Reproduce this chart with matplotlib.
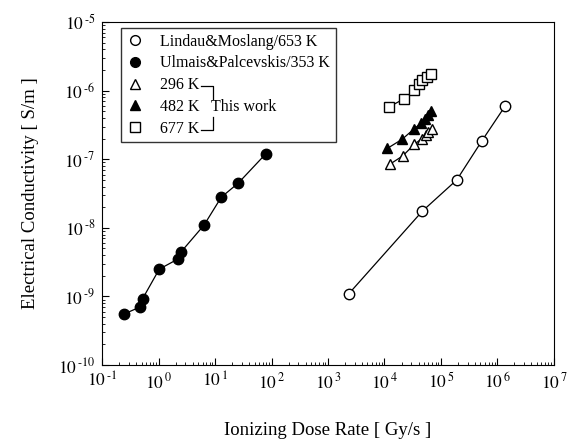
import math
import matplotlib
matplotlib.use("Agg")
import matplotlib.pyplot as plt
from matplotlib.lines import Line2D
from matplotlib.ticker import FuncFormatter

plt.rcParams['font.family'] = 'Liberation Serif'
plt.rcParams['mathtext.fontset'] = 'stix'

# Lindau & Moslang, 653 K
lm_rate = [2.35e3, 4.7e4, 1.9e5, 5.3e5, 1.37e6]
lm_cond = [1.1e-9, 1.76e-8, 5.0e-8, 1.86e-7, 6.0e-7]

# Ulmais & Palcevskis, 353 K
up_rate = [0.24, 0.47, 0.52, 1.03, 2.19, 2.53, 6.4, 12.9, 25.8, 79]
up_cond = [5.5e-10, 7.0e-10, 9.2e-10, 2.5e-9, 3.5e-9, 4.5e-9, 1.1e-8, 2.8e-8, 4.5e-8, 1.2e-7]

# This work
t296_rate = [1.25e4, 2.1e4, 3.37e4, 4.55e4, 5.36e4, 5.96e4, 6.84e4]
t296_cond = [8.5e-8, 1.12e-7, 1.65e-7, 2.0e-7, 2.25e-7, 2.47e-7, 2.8e-7]

t482_rate = [1.12e4, 2.07e4, 3.29e4, 4.48e4, 5.2e4, 5.96e4, 6.65e4]
t482_cond = [1.44e-7, 1.97e-7, 2.75e-7, 3.4e-7, 3.85e-7, 4.45e-7, 5.0e-7]

t677_rate = [1.2e4, 2.2e4, 3.37e4, 4.1e4, 4.7e4, 5.6e4, 6.6e4]
t677_cond = [5.8e-7, 7.6e-7, 1.02e-6, 1.24e-6, 1.43e-6, 1.6e-6, 1.73e-6]

fig = plt.figure(figsize=(5.67, 4.44), dpi=100)
ax = fig.add_axes([0.180, 0.178, 0.797, 0.772])

lw = 0.9
ax.plot(lm_rate, lm_cond, '-o', color='black', mfc='white', mec='black', ms=7.5, lw=lw)
ax.plot(up_rate, up_cond, '-o', color='black', mfc='black', ms=7.5, lw=lw)
ax.plot(t296_rate, t296_cond, '-^', color='black', mfc='white', ms=7, lw=lw)
ax.plot(t482_rate, t482_cond, '-^', color='black', mfc='black', ms=7, lw=lw)
ax.plot(t677_rate, t677_cond, '-s', color='black', mfc='white', ms=7, lw=lw)

ax.set_xscale('log')
ax.set_yscale('log')
ax.set_xlim(1e-1, 1e7)
ax.set_ylim(1e-10, 1e-5)


def pow10(v, pos):
    e = round(math.log10(v))
    if e < 0:
        return r'$10^{\,\text{-}%d}$' % (-e)
    return r'$10^{\,%d}$' % e


ax.xaxis.set_major_formatter(FuncFormatter(pow10))
ax.yaxis.set_major_formatter(FuncFormatter(pow10))

ax.tick_params(which='both', direction='in', top=False, right=False, labelsize=12.5)
ax.tick_params(which='major', length=5)
ax.tick_params(which='minor', length=2.5)
ax.tick_params(axis='x', pad=5)
ax.tick_params(axis='y', pad=5)

ax.set_xlabel('Ionizing Dose Rate [ Gy/s ]', fontsize=13.5, labelpad=22)
ax.set_ylabel('Electrical Conductivity [ S/m ]', fontsize=13.5, labelpad=14)

handles = [
    Line2D([], [], ls='none', marker='o', mfc='white', mec='black', ms=7),
    Line2D([], [], ls='none', marker='o', mfc='black', mec='black', ms=7),
    Line2D([], [], ls='none', marker='^', mfc='white', mec='black', ms=6.5),
    Line2D([], [], ls='none', marker='^', mfc='black', mec='black', ms=6.5),
    Line2D([], [], ls='none', marker='s', mfc='white', mec='black', ms=6.5),
]
labels = ['Lindau&Moslang/653 K', 'Ulmais&Palcevskis/353 K',
          '296 K', '482 K', '677 K']
leg = ax.legend(handles, labels, loc='upper left', bbox_to_anchor=(0.042, 0.983),
                borderaxespad=0, fontsize=11.5, frameon=True, fancybox=False,
                edgecolor='black', handlelength=1.0, handletextpad=1.1,
                labelspacing=0.36, borderpad=0.35)
leg.get_frame().set_linewidth(1.0)

# bracket for "This work", placed from the rendered legend texts
fig.canvas.draw()
inv = ax.transAxes.inverted()
texts = leg.get_texts()
b296 = inv.transform(texts[2].get_window_extent())
b482 = inv.transform(texts[3].get_window_extent())
b677 = inv.transform(texts[4].get_window_extent())
bx0 = max(b296[1][0], b677[1][0]) + 0.004
bx1 = bx0 + 0.026
ytop = (b296[0][1] + b296[1][1]) / 2 - 0.004
ybot = (b677[0][1] + b677[1][1]) / 2 - 0.004
ymid = (b482[0][1] + b482[1][1]) / 2 - 0.004
ax.plot([bx0, bx1, bx1], [ytop, ytop, ymid + 0.026], transform=ax.transAxes,
        color='black', lw=0.9, zorder=10)
ax.plot([bx1, bx1, bx0], [ymid - 0.026, ybot, ybot], transform=ax.transAxes,
        color='black', lw=0.9, zorder=10)
ax.text(bx1 - 0.004, ymid + 0.004, 'This work', transform=ax.transAxes, fontsize=11.5,
        ha='left', va='center', zorder=10)

fig.savefig('out.png', dpi=100)
